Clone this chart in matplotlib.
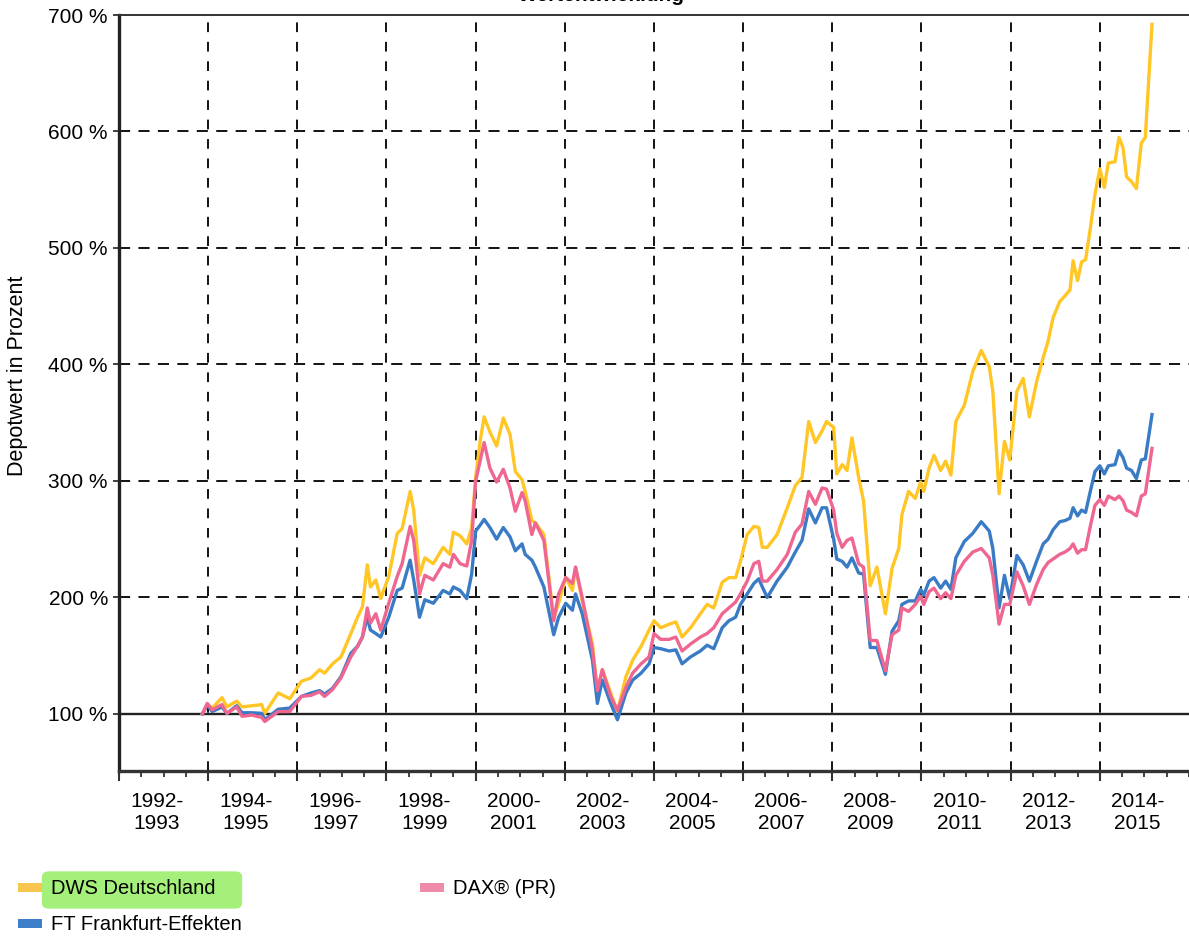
import matplotlib.pyplot as plt
from matplotlib.patches import Rectangle, FancyBboxPatch
import matplotlib.transforms as mtransforms

plt.rcParams['font.family'] = ['Liberation Sans', 'DejaVu Sans']
plt.rcParams['lines.scale_dashes'] = False

# ---- data ----
years = [1993.87, 1993.98, 1994.09, 1994.31, 1994.42, 1994.64, 1994.76, 1994.98,
         1995.20, 1995.27, 1995.57, 1995.83, 1996.09, 1996.31, 1996.50, 1996.61,
         1996.79, 1996.98, 1997.20, 1997.35, 1997.46, 1997.57, 1997.64, 1997.76,
         1997.87, 1998.05, 1998.24, 1998.35, 1998.53, 1998.61, 1998.74, 1998.86,
         1999.05, 1999.27, 1999.42, 1999.50, 1999.65, 1999.80, 1999.91, 2000.00,
         2000.10, 2000.19, 2000.32, 2000.47, 2000.62, 2000.77, 2000.89, 2001.04,
         2001.11, 2001.26, 2001.34, 2001.53, 2001.75, 2001.86, 2002.02, 2002.17,
         2002.24, 2002.39, 2002.62, 2002.73, 2002.84, 2003.03, 2003.18, 2003.37,
         2003.52, 2003.71, 2003.89, 2004.00, 2004.15, 2004.34, 2004.49, 2004.63,
         2004.82, 2005.04, 2005.19, 2005.34, 2005.53, 2005.68, 2005.83, 2005.94,
         2006.09, 2006.24, 2006.35, 2006.43, 2006.54, 2006.76, 2006.99, 2007.17,
         2007.32, 2007.47, 2007.62, 2007.77, 2007.87, 2008.03, 2008.10, 2008.22,
         2008.33, 2008.44, 2008.59, 2008.70, 2008.85, 2009.00, 2009.19, 2009.34,
         2009.49, 2009.56, 2009.71, 2009.86, 2009.98, 2010.05, 2010.17, 2010.28,
         2010.43, 2010.54, 2010.66, 2010.77, 2010.96, 2011.15, 2011.34, 2011.52,
         2011.60, 2011.74, 2011.86, 2011.98, 2012.14, 2012.28, 2012.42, 2012.58,
         2012.73, 2012.84, 2012.95, 2013.10, 2013.22, 2013.33, 2013.40, 2013.50,
         2013.59, 2013.68, 2013.78, 2013.89, 2014.00, 2014.10, 2014.19, 2014.34,
         2014.43, 2014.52, 2014.60, 2014.71, 2014.82, 2014.93, 2015.02, 2015.17]

dws = [100, 108, 105, 114, 106, 111, 106, 107,
       108, 100.5, 118, 113, 128, 131, 138, 135,
       143, 149, 169, 183, 192, 228, 209, 215,
       199, 218, 255, 259, 291, 275, 219, 234,
       229, 243, 237, 256, 253, 246, 260, 303,
       334, 355, 342, 330, 354, 340, 308, 301,
       291, 266, 264, 254, 182, 195, 217, 206,
       226, 197, 160, 118, 138, 118, 102, 132,
       146, 158, 172, 180, 174, 177, 179, 166,
       174, 186, 194, 191, 213, 217, 217, 231,
       254, 261, 260, 243, 243, 254, 277, 296,
       303, 351, 333, 343, 351, 346, 306, 314,
       309, 337, 303, 283, 210, 226, 186, 225,
       242, 271, 291, 285, 299, 291, 311, 322,
       309, 317, 305, 351, 365, 394, 412, 398,
       377, 289, 334, 318, 377, 388, 355, 385,
       406, 420, 440, 454, 459, 464, 489, 472,
       488, 490, 515, 546, 568, 552, 573, 574,
       595, 586, 561, 557, 551, 590, 595, 692]

ft = [100, 108, 102, 106, 100.5, 107, 101, 101,
      100.5, 95, 104, 105, 115, 118, 120, 117,
      122, 132, 152, 158, 166, 183, 172, 169,
      166, 183, 206, 208, 232, 215, 183, 198,
      195, 206, 203, 209, 206, 199, 220, 257,
      262, 267, 260, 250, 260, 252, 240, 246,
      237, 232, 226, 209, 168, 183, 195, 189,
      203, 186, 146, 109, 129, 109, 95, 118,
      129, 135, 143, 157, 156, 154, 155, 143,
      149, 154, 159, 156, 174, 180, 183, 194,
      203, 212, 216, 209, 200, 214, 226, 239,
      249, 276, 264, 277, 277, 250, 233, 231,
      226, 234, 221, 220, 157, 157, 134, 171,
      180, 194, 197, 197, 207, 202, 214, 217,
      208, 214, 207, 234, 248, 255, 265, 257,
      242, 191, 219, 199, 236, 228, 214, 231,
      246, 250, 258, 265, 266, 268, 277, 270,
      275, 273, 290, 308, 313, 306, 313, 314,
      326, 320, 311, 309, 302, 318, 319, 357]

dax = [100, 109, 103.5, 108, 100.5, 106, 98, 99,
       97, 93.5, 102, 102, 115, 116, 119, 115,
       121, 131, 149, 158, 166, 191, 178, 186,
       172, 195, 218, 229, 261, 249, 203, 219,
       215, 229, 226, 237, 229, 227, 249, 300,
       317, 333, 311, 299, 310, 294, 274, 290,
       283, 254, 264, 249, 180, 203, 217, 212,
       226, 200, 155, 120, 138, 115, 103, 123,
       135, 143, 149, 169, 164, 164, 166, 154,
       160, 166, 169, 174, 186, 191, 196, 203,
       214, 229, 231, 214, 214, 224, 237, 256,
       263, 291, 280, 294, 293, 275, 255, 243,
       249, 251, 229, 226, 163, 163, 137, 168,
       172, 191, 188, 194, 201, 194, 205, 208,
       199, 204, 199, 219, 231, 239, 242, 234,
       219, 177, 194, 194, 222, 210, 194, 211,
       224, 230, 233, 237, 239, 242, 246, 238,
       241, 241, 260, 279, 284, 279, 287, 284,
       287, 283, 275, 273, 270, 287, 289, 328]

series_names = ['DWS Deutschland', 'FT Frankfurt-Effekten', 'DAX® (PR)']
line_colors = ['#FFC626', '#3A7BC6', '#EF6790']
patch_colors = ['#F8C64E', '#3E7FCA', '#EE8BA8']

year_labels = ['1992-\n1993', '1994-\n1995', '1996-\n1997', '1998-\n1999',
               '2000-\n2001', '2002-\n2003', '2004-\n2005', '2006-\n2007',
               '2008-\n2009', '2010-\n2011', '2012-\n2013', '2014-\n2015']
label_starts = list(range(1992, 2016, 2))

# ---- figure ----
W, H = 1189, 938
fig = plt.figure(figsize=(W / 100, H / 100), dpi=100)
ax = fig.add_axes([119 / W, 1 - 771 / H, 1 - 119 / W, (771 - 15) / H])

ax.set_xlim(1992, 2016)
ax.set_ylim(51, 700)

# grid
for y in range(200, 700, 100):
    ax.axhline(y, color='black', lw=1.3, dashes=(8, 6), zorder=1)
for x in range(1994, 2016, 2):
    ax.axvline(x, color='black', lw=1.3, dashes=(7, 7), zorder=1)
ax.axhline(100, color='#222222', lw=1.7, zorder=1)

ax.plot(years, dws, color=line_colors[0], lw=2.4, zorder=3)
ax.plot(years, ft, color=line_colors[1], lw=2.4, zorder=4)
ax.plot(years, dax, color=line_colors[2], lw=2.4, zorder=5)

# axes styling
ax.spines['right'].set_visible(False)
ax.spines['left'].set_linewidth(2.4)
ax.spines['left'].set_color('#222222')
ax.spines['bottom'].set_linewidth(2.4)
ax.spines['bottom'].set_color('#333333')
ax.spines['top'].set_linewidth(1.4)
ax.spines['top'].set_color('#333333')

ax.set_yticks(range(100, 701, 100))
ax.set_yticklabels([f'{v} %' for v in range(100, 701, 100)], fontsize=15)
ax.tick_params(axis='y', length=4, width=1.3, color='#333333', pad=4)

ax.set_xticks(label_starts[1:] + [1992])
ax.set_xticklabels([])
ax.set_xticks([1992 + 0.5 * i for i in range(49)], minor=True)
ax.tick_params(axis='x', which='major', length=7, width=1.5, color='#333333')
ax.tick_params(axis='x', which='minor', length=4, width=1.3, color='#333333')

trans = mtransforms.blended_transform_factory(ax.transData, ax.transAxes)
for start, lab in zip(label_starts, year_labels):
    ax.text(start + 0.85, -0.028, lab, transform=trans, ha='center', va='top',
            fontsize=15, linespacing=1.2)

fig.text(18 / W, 1 - 376 / H, 'Depotwert in Prozent', rotation=90,
         ha='center', va='center', fontsize=15.5)

# title, cut off at the top edge of the scan
fig.text(601 / W, 1 - 1 / H, 'Wertentwicklung', ha='center', va='baseline',
         fontsize=15, fontweight='bold')

# legend (drawn by hand, as in the scan), with the marker highlight
hl = FancyBboxPatch((49 / W, 1 - 903 / H), 186 / W, 26 / H,
                    boxstyle='round,pad=0.006', transform=fig.transFigure,
                    facecolor='#a4f07a', edgecolor='none', zorder=0)
fig.patches.append(hl)
legend_pos = [(18, 888), (18, 924), (420, 888)]
for (px, py), name, pc in zip(legend_pos, series_names, patch_colors):
    fig.patches.append(Rectangle((px / W, 1 - (py + 4) / H), 24 / W, 9 / H,
                                 transform=fig.transFigure, facecolor=pc,
                                 edgecolor='none'))
    fig.text((px + 33) / W, 1 - py / H, name, ha='left', va='center',
             fontsize=14.5)

fig.savefig('out.png', dpi=100)
